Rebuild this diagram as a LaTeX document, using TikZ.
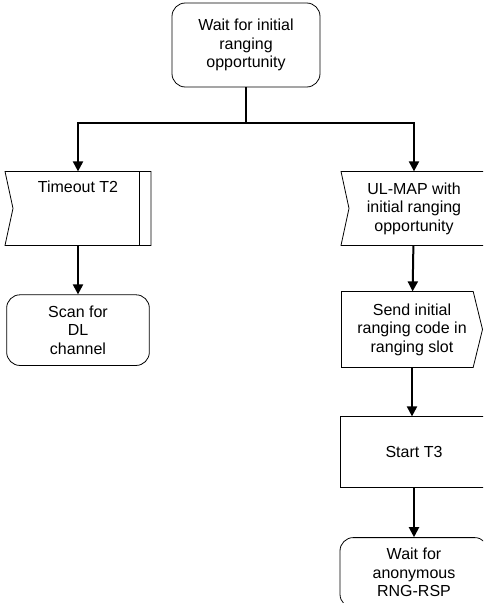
\documentclass[tikz,border=0pt]{standalone}
\usepackage{fontspec}
\setmainfont{Liberation Sans}
\usetikzlibrary{arrows.meta, positioning}
\tikzset{
  outline/.style={line width=0.6pt, line join=miter},
  waitstate/.style={draw, outline, rounded corners=10pt, align=center,
    minimum width=111pt, minimum height=63pt, inner sep=2pt},
  sigbox/.style={rectangle, align=center, minimum width=108pt, minimum height=54pt, inner sep=2pt},
  task/.style={draw, outline, rectangle, align=center,
    minimum width=111pt, minimum height=53.25pt, inner sep=2pt}
}

\begin{document}
\begin{tikzpicture}[x=0.75pt, y=0.75pt, line width=1.5pt,
  >={Triangle[length=7.5pt, width=7.5pt]},
  font=\fontsize{12pt}{13.9pt}\selectfont]
\useasboundingbox (0,0) rectangle (483,-603);
\clip (0,0) rectangle (483,-603);

\node[waitstate] (init) at (246,-45) {Wait for initial\\ranging\\opportunity};
\coordinate[below=27pt of init] (fork);

% left branch: timer expiry
\node[sigbox, below=36pt of fork, xshift=-126pt,
  label={[anchor=north, yshift=-3pt]north:Timeout T2}] (timeout) {};
\node[waitstate, below=36.75pt of timeout, minimum width=107pt, minimum height=53pt] (scan) {Scan for\\DL\\channel};

% right branch: ranging opportunity in the UL-MAP
\node[sigbox, below=36pt of fork, xshift=126pt] (ulmap) {UL-MAP with\\initial ranging\\opportunity};
\node[sigbox, below=34.5pt of ulmap, xshift=-1.5pt, minimum width=104.25pt, minimum height=55.5pt] (send) {Send initial\\ranging code in\\ranging slot};
\node[task, below=36.75pt of send, xshift=1.5pt] (start3) {Start T3};
\node[waitstate, below=36.75pt of start3, minimum height=52.5pt] (wait) {Wait for\\anonymous\\RNG-RSP};

% input signals (notch on the left), timer gets a second bar
\draw[outline] (timeout.north west) -- (timeout.north east) -- (timeout.south east)
  -- (timeout.south west) -- ([xshift=6pt]timeout.west) -- cycle;
\draw[outline] ([xshift=-9pt]timeout.north east) -- ([xshift=-9pt]timeout.south east);
\draw[outline] (ulmap.north west) -- (ulmap.north east) -- (ulmap.south east)
  -- (ulmap.south west) -- ([xshift=6pt]ulmap.west) -- cycle;
% output signal (point on the right)
\draw[outline] (send.north west) -- ([xshift=-7pt]send.north east) -- (send.east)
  -- ([xshift=-7pt]send.south east) -- (send.south west) -- cycle;

\draw (init) -- (fork);
\draw[->] (fork) -| (timeout);
\draw[->] (fork) -| (ulmap);
\draw[->] (timeout) -- (scan);
\draw[->] (ulmap) -- (send);
\draw[->] (send) -- (send |- start3.north);
\draw[->] (start3) -- (wait);
\end{tikzpicture}
\end{document}
